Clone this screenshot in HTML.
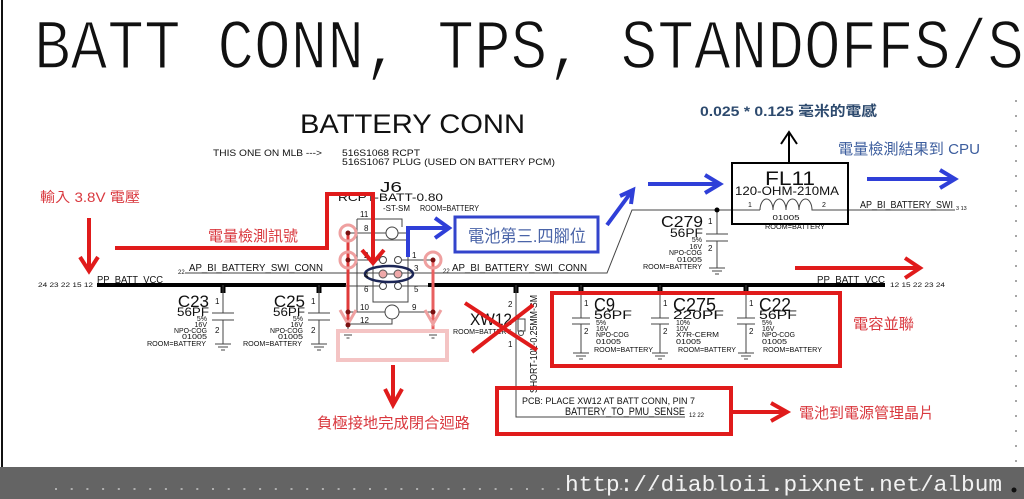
<!DOCTYPE html>
<html><head><meta charset="utf-8"><style>
html,body{margin:0;padding:0;background:#fff;}
svg{display:block;}
.s{font-family:"Liberation Sans",sans-serif;fill:#111;}
.m{font-family:"Liberation Mono",monospace;}
.cj{font-family:"Liberation Sans","Noto Sans CJK TC",sans-serif;}
</style></head><body>
<svg width="1024" height="499" viewBox="0 0 1024 499" xmlns="http://www.w3.org/2000/svg">
<rect width="1024" height="499" fill="#fff"/>
<line x1="2" y1="0" x2="2" y2="467" stroke="#111" stroke-width="2"/>

<!-- Title -->
<text class="m" x="34" y="59" transform="scale(1,1.15)" font-size="61" textLength="990" lengthAdjust="spacingAndGlyphs" fill="#111" stroke="#fff" stroke-width="1.3">BATT CONN, TPS, STANDOFFS/S</text>

<!-- right dotted -->
<line x1="1016" y1="100" x2="1016" y2="466" stroke="#888" stroke-width="1.5" stroke-dasharray="2 13"/>

<!-- Bottom band -->
<rect x="0" y="467" width="1024" height="32" fill="#646464"/>
<line x1="55" y1="489" x2="1005" y2="489" stroke="#c8c8c8" stroke-width="1.5" stroke-dasharray="2 13.7"/>
<text class="m" x="565" y="491" font-size="22" textLength="437" lengthAdjust="spacingAndGlyphs" fill="#f2f2f2">http://diabloii.pixnet.net/album</text>
<circle cx="1014" cy="490" r="2.5" fill="#111"/>

<!-- BATTERY CONN header -->
<text class="s" x="300" y="133" font-size="27" textLength="225" lengthAdjust="spacingAndGlyphs" fill="#111">BATTERY CONN</text>
<text class="s" x="213" y="156" font-size="9" textLength="109" lengthAdjust="spacingAndGlyphs">THIS ONE ON MLB ---&gt;</text>
<text class="s" x="342" y="156" font-size="9" textLength="78" lengthAdjust="spacingAndGlyphs">516S1068 RCPT</text>
<text class="s" x="342" y="165" font-size="9" textLength="213" lengthAdjust="spacingAndGlyphs">516S1067 PLUG (USED ON BATTERY PCM)</text>

<!-- Main bus -->
<line x1="97" y1="285" x2="346" y2="285" stroke="#000" stroke-width="4"/>
<line x1="428" y1="285" x2="885" y2="285" stroke="#000" stroke-width="4"/>
<g fill="#000">
<rect x="220.5" y="283" width="5" height="10"/>
<rect x="316.5" y="283" width="5" height="10"/>
<rect x="513.5" y="283" width="5" height="10"/>
<rect x="578.5" y="283" width="5" height="10"/>
<rect x="657.5" y="283" width="5" height="10"/>
<rect x="743.5" y="283" width="5" height="10"/>
</g>
<text class="s" x="38" y="287" font-size="6" textLength="55" lengthAdjust="spacingAndGlyphs">24 23 22 15 12</text>
<text class="s" x="97" y="283" font-size="10" textLength="66" lengthAdjust="spacingAndGlyphs">PP_BATT_VCC</text>
<text class="s" x="817" y="283" font-size="10" textLength="68" lengthAdjust="spacingAndGlyphs">PP_BATT_VCC</text>
<text class="s" x="890" y="287" font-size="6" textLength="55" lengthAdjust="spacingAndGlyphs">12 15 22 23 24</text>

<!-- wires thin -->
<g stroke="#444" stroke-width="1" fill="none">
<path d="M223 285V313M212 313H234M212 320H234M223 320V344M215 344H231M218 347H228M221 350H225"/>
<path d="M319 285V313M308 313H330M308 320H330M319 320V344M311 344H327M314 347H324M317 350H321"/>
<path d="M717 210V234M706 234H728M706 241H728M717 241V268M709 268H725M712 271H722M715 274H719"/>
<path d="M581 285V318M572 318H590M572 324H590M581 324V353M573 353H589M576 356H586M579 359H583"/>
<path d="M660 285V318M651 318H669M651 324H669M660 324V353M652 353H668M655 356H665M658 359H662"/>
<path d="M746 285V318M737 318H755M737 324H755M746 324V353M738 353H754M741 356H751M744 359H748"/>
<path d="M185 273H379M402 273H607L632 210H760"/>
<path d="M760 210a6.5 11 0 0 1 13 0a6.5 11 0 0 1 13 0a6.5 11 0 0 1 13 0a6.5 11 0 0 1 13 0H955"/>
<path d="M357 219H402V227M357 219V312"/>
<path d="M348 233H386M398 233H410"/>
<circle cx="392" cy="233" r="6"/>
<path d="M348 260H379M402 260H433"/>
<circle cx="383" cy="260" r="3.5"/><circle cx="398" cy="260" r="3.5"/>
<rect x="373" y="240" width="35" height="62"/>
<path d="M345 286H379M402 286H428"/>
<circle cx="383" cy="286" r="3.5"/><circle cx="398" cy="286" r="3.5"/>
<path d="M348 312H385M399 312H433"/>
<circle cx="392" cy="312" r="7"/>
<path d="M348 324H392V319"/>
<path d="M348 233V332M433 260V332"/>
<path d="M341 332H355M344 335H352M346.5 338H349.5"/>
<path d="M426 332H440M429 335H437M431.5 338H434.5"/>
<path d="M516 285V417H685"/>
<rect x="518" y="319" width="7" height="12"/>
<circle cx="521" cy="333" r="2.5"/>
</g>
<line x1="383" y1="274" x2="398" y2="274" stroke="#444" stroke-width="1"/>
<circle cx="383" cy="274" r="4" fill="#eea8a8" stroke="#555" stroke-width="1"/>
<circle cx="398" cy="274" r="4" fill="#eea8a8" stroke="#555" stroke-width="1"/>
<ellipse cx="389" cy="274" rx="24" ry="8" fill="none" stroke="#1c2656" stroke-width="2.5"/>
<circle cx="717" cy="210" r="2.5" fill="#000"/>

<!-- cap texts -->
<g class="s">
<text x="209" y="307" font-size="17" text-anchor="end">C23</text>
<text x="209" y="316" font-size="12" text-anchor="end" textLength="32" lengthAdjust="spacingAndGlyphs">56PF</text>
<text x="207" y="321" font-size="7" text-anchor="end">5%</text>
<text x="207" y="327" font-size="7" text-anchor="end">16V</text>
<text x="207" y="333" font-size="7.5" text-anchor="end" textLength="33" lengthAdjust="spacingAndGlyphs">NPO-COG</text>
<text x="207" y="339" font-size="7.5" text-anchor="end" textLength="25" lengthAdjust="spacingAndGlyphs">01005</text>
<text x="206" y="346" font-size="7.5" text-anchor="end" textLength="59" lengthAdjust="spacingAndGlyphs">ROOM=BATTERY</text>
<text x="215" y="304" font-size="8">1</text><text x="215" y="333" font-size="8">2</text>

<text x="305" y="307" font-size="17" text-anchor="end">C25</text>
<text x="305" y="316" font-size="12" text-anchor="end" textLength="32" lengthAdjust="spacingAndGlyphs">56PF</text>
<text x="303" y="321" font-size="7" text-anchor="end">5%</text>
<text x="303" y="327" font-size="7" text-anchor="end">16V</text>
<text x="303" y="333" font-size="7.5" text-anchor="end" textLength="33" lengthAdjust="spacingAndGlyphs">NPO-COG</text>
<text x="303" y="339" font-size="7.5" text-anchor="end" textLength="25" lengthAdjust="spacingAndGlyphs">01005</text>
<text x="302" y="346" font-size="7.5" text-anchor="end" textLength="59" lengthAdjust="spacingAndGlyphs">ROOM=BATTERY</text>
<text x="311" y="304" font-size="8">1</text><text x="311" y="333" font-size="8">2</text>

<text x="703" y="227" font-size="16" text-anchor="end" textLength="42" lengthAdjust="spacingAndGlyphs">C279</text>
<text x="703" y="237" font-size="12" text-anchor="end" textLength="33" lengthAdjust="spacingAndGlyphs">56PF</text>
<text x="702" y="242" font-size="7" text-anchor="end">5%</text>
<text x="702" y="249" font-size="7" text-anchor="end">16V</text>
<text x="702" y="255" font-size="7.5" text-anchor="end" textLength="33" lengthAdjust="spacingAndGlyphs">NPO-COG</text>
<text x="702" y="262" font-size="7.5" text-anchor="end" textLength="25" lengthAdjust="spacingAndGlyphs">01005</text>
<text x="702" y="269" font-size="7.5" text-anchor="end" textLength="59" lengthAdjust="spacingAndGlyphs">ROOM=BATTERY</text>
<text x="708" y="224" font-size="8">1</text><text x="708" y="251" font-size="8">2</text>

<text x="594" y="311" font-size="18" textLength="21" lengthAdjust="spacingAndGlyphs">C9</text>
<text x="594" y="319" font-size="12" textLength="38" lengthAdjust="spacingAndGlyphs">56PF</text>
<text x="596" y="325" font-size="7">5%</text>
<text x="596" y="331" font-size="7">16V</text>
<text x="596" y="337" font-size="7.5" textLength="33" lengthAdjust="spacingAndGlyphs">NPO-COG</text>
<text x="596" y="344" font-size="7.5" textLength="25" lengthAdjust="spacingAndGlyphs">01005</text>
<text x="594" y="352" font-size="7.5" textLength="59" lengthAdjust="spacingAndGlyphs">ROOM=BATTERY</text>
<text x="584" y="306" font-size="8">1</text><text x="584" y="334" font-size="8">2</text>

<text x="673" y="311" font-size="18" textLength="43" lengthAdjust="spacingAndGlyphs">C275</text>
<text x="673" y="319" font-size="12" textLength="51" lengthAdjust="spacingAndGlyphs">220PF</text>
<text x="676" y="325" font-size="7">10%</text>
<text x="676" y="331" font-size="7">10V</text>
<text x="676" y="337" font-size="7.5" textLength="43" lengthAdjust="spacingAndGlyphs">X7R-CERM</text>
<text x="676" y="344" font-size="7.5" textLength="25" lengthAdjust="spacingAndGlyphs">01005</text>
<text x="678" y="352" font-size="7.5" textLength="58" lengthAdjust="spacingAndGlyphs">ROOM=BATTERY</text>
<text x="663" y="306" font-size="8">1</text><text x="663" y="334" font-size="8">2</text>

<text x="759" y="311" font-size="18" textLength="32" lengthAdjust="spacingAndGlyphs">C22</text>
<text x="759" y="319" font-size="12" textLength="38" lengthAdjust="spacingAndGlyphs">56PF</text>
<text x="762" y="325" font-size="7">5%</text>
<text x="762" y="331" font-size="7">16V</text>
<text x="762" y="337" font-size="7.5" textLength="33" lengthAdjust="spacingAndGlyphs">NPO-COG</text>
<text x="762" y="344" font-size="7.5" textLength="25" lengthAdjust="spacingAndGlyphs">01005</text>
<text x="763" y="352" font-size="7.5" textLength="59" lengthAdjust="spacingAndGlyphs">ROOM=BATTERY</text>
<text x="749" y="306" font-size="8">1</text><text x="749" y="334" font-size="8">2</text>
</g>

<!-- net labels -->
<g class="s">
<text x="178" y="274" font-size="6">22</text>
<text x="189" y="271" font-size="10" textLength="134" lengthAdjust="spacingAndGlyphs">AP_BI_BATTERY_SWI_CONN</text>
<text x="443" y="273" font-size="6">22</text>
<text x="452" y="271" font-size="10" textLength="135" lengthAdjust="spacingAndGlyphs">AP_BI_BATTERY_SWI_CONN</text>
<text x="860" y="208" font-size="10" textLength="93" lengthAdjust="spacingAndGlyphs">AP_BI_BATTERY_SWI</text>
<text x="956" y="210" font-size="5.5">3 13</text>
<text x="790" y="185" font-size="19" text-anchor="middle" textLength="50" lengthAdjust="spacingAndGlyphs">FL11</text>
<text x="787" y="195" font-size="12" text-anchor="middle" textLength="104" lengthAdjust="spacingAndGlyphs">120-OHM-210MA</text>
<text x="748" y="207" font-size="7">1</text>
<text x="822" y="207" font-size="7">2</text>
<text x="786" y="220" font-size="7.5" text-anchor="middle" textLength="27" lengthAdjust="spacingAndGlyphs">01005</text>
<text x="795" y="229" font-size="7.5" text-anchor="middle" textLength="60" lengthAdjust="spacingAndGlyphs">ROOM=BATTERY</text>
<text x="380" y="192" font-size="15" textLength="22" lengthAdjust="spacingAndGlyphs">J6</text>
<text x="338" y="201" font-size="11" textLength="105" lengthAdjust="spacingAndGlyphs">RCPT-BATT-0.80</text>
<text x="383" y="211" font-size="8" textLength="27" lengthAdjust="spacingAndGlyphs">-ST-SM</text>
<text x="420" y="211" font-size="8" textLength="59" lengthAdjust="spacingAndGlyphs">ROOM=BATTERY</text>
<text x="360" y="217" font-size="8">11</text>
<text x="364" y="231" font-size="8">8</text>
<text x="364" y="258" font-size="8">2</text>
<text x="412" y="258" font-size="8">1</text>
<text x="364" y="278" font-size="8">4</text>
<text x="414" y="271" font-size="8">3</text>
<text x="364" y="292" font-size="8">6</text>
<text x="414" y="292" font-size="8">5</text>
<text x="360" y="310" font-size="8">10</text>
<text x="412" y="310" font-size="8">9</text>
<text x="360" y="323" font-size="8">12</text>
<text x="470" y="325" font-size="17" textLength="42" lengthAdjust="spacingAndGlyphs">XW12</text>
<text x="453" y="334" font-size="7.5" textLength="58" lengthAdjust="spacingAndGlyphs">ROOM=BATTERY</text>
<text x="508" y="307" font-size="8">2</text>
<text x="508" y="347" font-size="8">1</text>
<text transform="translate(537,393) rotate(-90)" font-size="10" textLength="98" lengthAdjust="spacingAndGlyphs">SHORT-10L-0.25MM-SM</text>
<text x="522" y="404" font-size="9" textLength="173" lengthAdjust="spacingAndGlyphs">PCB: PLACE XW12 AT BATT CONN, PIN 7</text>
<text x="565" y="415" font-size="11" textLength="120" lengthAdjust="spacingAndGlyphs">BATTERY_TO_PMU_SENSE</text>
<text x="689" y="417" font-size="6">12 22</text>
</g>

<rect x="732" y="163" width="116" height="61" fill="none" stroke="#000" stroke-width="2"/>
<path d="M789 163V133M781 144L789 132L797 144" fill="none" stroke="#000" stroke-width="2"/>

<line x1="348" y1="233" x2="348" y2="325" stroke="#e03a3a" stroke-width="3"/>
<line x1="433" y1="260" x2="433" y2="333" stroke="#e86060" stroke-width="3"/>
<g fill="none" stroke="#efa0a0" stroke-width="3">
<circle cx="348" cy="233" r="8"/>
<circle cx="348" cy="260" r="8"/>
<circle cx="433" cy="260" r="8"/>
<polyline points="340,310 348,324 356,310"/>
<polyline points="425,310 433,324 441,310"/>
</g>
<g fill="#7a1010">
<circle cx="348" cy="233" r="2.5"/><circle cx="348" cy="260" r="2.5"/><circle cx="433" cy="260" r="2.5"/>
<circle cx="348" cy="312" r="2.5"/><circle cx="348" cy="325" r="2.5"/><circle cx="433" cy="312" r="2.5"/>
</g>
<rect x="338" y="331" width="109" height="29" fill="none" stroke="#f4c4c4" stroke-width="4"/>

<g fill="none" stroke="#e01b1b" stroke-width="4">
<path d="M89 218V271M80 257L89 271L98 257"/>
<path d="M115 248H327V194H373V262M362 250L373 263L384 250"/>
<path d="M795 268H919M905 258L920 268L905 278"/>
<path d="M393 365V404M385 389L393 405L402 389"/>
<path d="M465 303L537 350M472 352L533 305"/>
<rect x="552" y="293" width="288" height="73"/>
<rect x="497" y="388" width="234" height="46"/>
<path d="M731 412H786M771 403L787 412L771 421"/>
</g>
<g class="cj" fill="#d9383e">
<text x="40" y="202" font-size="14" textLength="100" lengthAdjust="spacingAndGlyphs">輸入 3.8V 電壓</text>
<text x="208" y="241" font-size="15" textLength="90" lengthAdjust="spacingAndGlyphs">電量檢測訊號</text>
<text x="317" y="428" font-size="15" textLength="153" lengthAdjust="spacingAndGlyphs">負極接地完成閉合迴路</text>
<text x="853" y="329" font-size="15" textLength="61" lengthAdjust="spacingAndGlyphs">電容並聯</text>
<text x="799" y="418" font-size="15" textLength="135" lengthAdjust="spacingAndGlyphs">電池到電源管理晶片</text>
</g>

<g fill="none" stroke="#2f3fd8" stroke-width="4">
<path d="M408 257V228H448M435 218L449 228L435 238"/>
<path d="M607 225L632 191M620 196L633 190L631 204"/>
<path d="M648 184H719M705 175L720 184L705 193"/>
<path d="M867 179H954M940 170L955 179L940 188"/>
</g>
<rect x="455" y="217" width="143" height="35" fill="#fff" stroke="#3344cc" stroke-width="3"/>
<text class="cj" x="527" y="242" font-size="17" text-anchor="middle" textLength="118" lengthAdjust="spacingAndGlyphs" fill="#4a64a8">電池第三.四腳位</text>
<text class="cj" x="700" y="116" font-size="14" textLength="177" lengthAdjust="spacingAndGlyphs" fill="#2d4a6e" font-weight="bold">0.025 * 0.125 毫米的電感</text>
<text class="cj" x="838" y="154" font-size="15" textLength="142" lengthAdjust="spacingAndGlyphs" fill="#3d5e9e">電量檢測結果到 CPU</text>
</svg>
</body></html>
